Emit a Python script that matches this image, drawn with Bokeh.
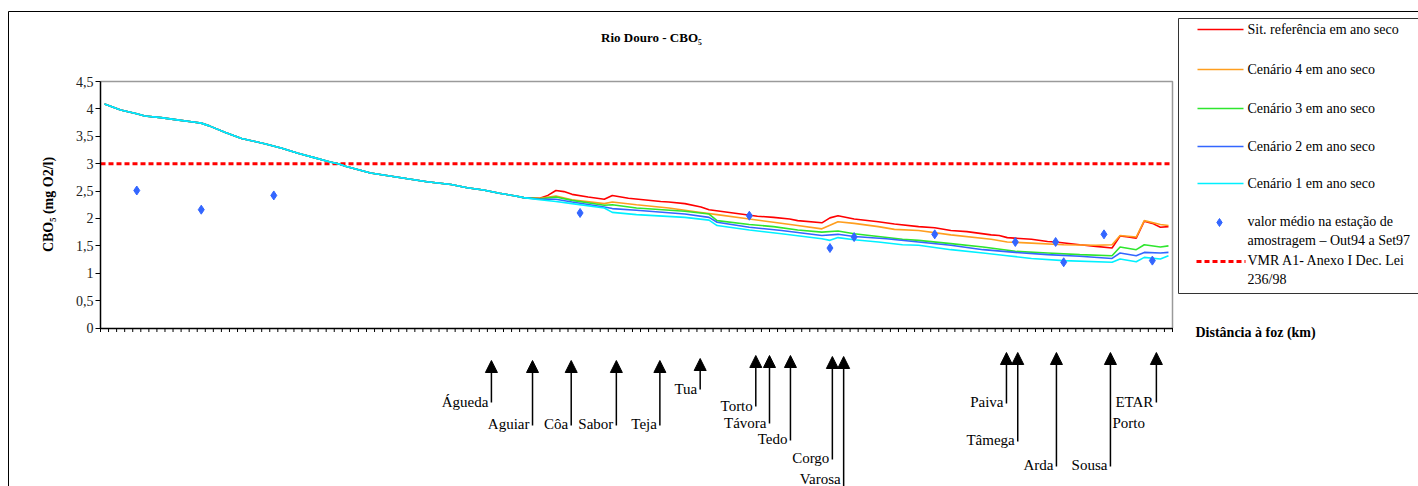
import numpy as np
from bokeh.plotting import figure
from bokeh.models import (Range1d, LinearAxis, FixedTicker, ColumnDataSource,
                          Arrow, NormalHead)
from bokeh.core.properties import value
from bokeh.embed import file_html
from bokeh.resources import INLINE

# ---------------- data ----------------
N_CAT = 133  # number of river sections on the category axis

# common upstream part (all scenarios coincide)
upstream_idx = [0, 2, 4, 5, 7, 9, 11, 12, 13, 15, 17, 20, 22, 24, 26, 28, 29, 30,
                33, 36, 40, 43, 45, 47, 49, 51, 52]
upstream_val = [4.09, 3.98, 3.91, 3.87, 3.84, 3.80, 3.76, 3.74, 3.69, 3.57, 3.46,
                3.36, 3.28, 3.19, 3.11, 3.03, 3.00, 2.95, 2.83, 2.76, 2.67, 2.62,
                2.56, 2.52, 2.46, 2.41, 2.38]

ref_idx = [54, 55, 56, 57, 58, 60, 62, 63, 65, 69, 70, 72, 74, 75, 78, 81, 83, 85,
           86, 89, 90, 91, 93, 96, 98, 101, 103, 105, 107, 110, 111, 112, 115, 117,
           118, 121, 123, 125, 126, 127, 128, 129, 130, 131, 132]
ref_val = [2.37, 2.42, 2.51, 2.49, 2.44, 2.39, 2.35, 2.42, 2.37, 2.31, 2.30, 2.27,
           2.21, 2.16, 2.10, 2.04, 2.02, 1.99, 1.96, 1.92, 2.01, 2.05, 1.99, 1.94,
           1.90, 1.85, 1.83, 1.78, 1.76, 1.70, 1.69, 1.65, 1.62, 1.58, 1.57, 1.52,
           1.49, 1.46, 1.68, 1.66, 1.64, 1.95, 1.91, 1.84, 1.85]

c4_idx = [54, 56, 58, 62, 63, 66, 70, 74, 76, 80, 83, 86, 89, 91, 93, 96, 98, 101,
          105, 110, 112, 115, 119, 123, 125, 126, 128, 129, 131, 132]
c4_val = [2.37, 2.41, 2.34, 2.27, 2.30, 2.25, 2.19, 2.11, 2.07, 1.99, 1.93, 1.87,
          1.81, 1.94, 1.91, 1.85, 1.80, 1.78, 1.70, 1.62, 1.57, 1.55, 1.52, 1.51,
          1.52, 1.69, 1.66, 1.96, 1.89, 1.87]

c3_idx = [54, 56, 58, 62, 63, 66, 72, 75, 76, 80, 83, 86, 89, 91, 93, 96, 99, 101,
          105, 109, 113, 117, 121, 125, 126, 128, 129, 131, 132]
c3_val = [2.36, 2.39, 2.33, 2.24, 2.25, 2.19, 2.13, 2.08, 1.96, 1.89, 1.85, 1.79,
          1.75, 1.77, 1.72, 1.67, 1.62, 1.60, 1.54, 1.48, 1.40, 1.37, 1.34, 1.32,
          1.48, 1.43, 1.52, 1.48, 1.50]

c2_idx = [54, 56, 58, 62, 63, 66, 72, 75, 76, 80, 84, 89, 91, 93, 97, 101, 105, 109,
          113, 117, 121, 125, 126, 128, 129, 131, 132]
c2_val = [2.35, 2.35, 2.30, 2.21, 2.18, 2.15, 2.08, 2.02, 1.93, 1.84, 1.78, 1.69,
          1.71, 1.67, 1.63, 1.57, 1.51, 1.43, 1.38, 1.34, 1.31, 1.27, 1.37, 1.32,
          1.38, 1.37, 1.38]

c1_idx = [54, 56, 58, 62, 63, 66, 72, 75, 76, 80, 84, 89, 90, 91, 93, 96, 99, 101,
          105, 109, 112, 115, 119, 125, 126, 128, 129, 131, 132]
c1_val = [2.34, 2.31, 2.27, 2.19, 2.11, 2.07, 2.02, 1.97, 1.87, 1.79, 1.72, 1.63,
          1.60, 1.65, 1.61, 1.57, 1.52, 1.51, 1.43, 1.37, 1.32, 1.27, 1.23, 1.20,
          1.26, 1.21, 1.29, 1.26, 1.32]

station_idx = [4, 12, 21, 59, 80, 90, 93, 103, 113, 118, 119, 124, 130]
station_val = [2.51, 2.16, 2.42, 2.10, 2.05, 1.46, 1.66, 1.71, 1.57, 1.57, 1.20,
               1.71, 1.23]

vmr_value = 3.0

y_ticks = [0, 0.5, 1, 1.5, 2, 2.5, 3, 3.5, 4, 4.5]
y_tick_labels = ["0", "0,5", "1", "1,5", "2", "2,5", "3", "3,5", "4", "4,5"]

series_names = ["Sit. referência em ano seco", "Cenário 4 em ano seco",
                "Cenário 3 em ano seco", "Cenário 2 em ano seco",
                "Cenário 1 em ano seco"]
series_colors = ["#FF0000", "#FF9E1F", "#2EE62E", "#3366FF", "#00F0FF"]
station_name = "valor médio na estação de\namostragem – Out94 a Set97"
vmr_name = "VMR A1- Anexo I Dec. Lei\n236/98"

tributaries = ["Águeda", "Aguiar", "Côa", "Sabor", "Teja", "Tua", "Torto", "Távora",
               "Tedo", "Corgo", "Varosa", "Paiva", "Tâmega", "Arda", "Sousa",
               "ETAR\nPorto"]
tributary_idx = [48.0, 53.1, 57.9, 63.5, 68.9, 73.9, 80.8, 82.5, 85.1, 90.3, 91.7,
                 111.9, 113.3, 118.1, 124.8, 130.5]

title_text = "Rio Douro - CBO₅"
y_label_text = "CBO₅ (mg O2/l)"
x_label_text = "Distância à foz (km)"

# ---------------- layout (pixels) ----------------
W, H = 1418, 486
PLOT_L, PLOT_R, PLOT_T, PLOT_B = 100.0, 1172.0, 81.0, 327.5
cw = (PLOT_R - PLOT_L) / N_CAT
yu = (PLOT_B - PLOT_T) / 4.5


def X(px):
    return (px - PLOT_L) / cw - 0.5


def Y(py):
    return (PLOT_B - py) / yu


arrow_tip_py = [360, 360, 360, 360, 360, 358, 355, 355, 355, 356, 356,
                352, 352, 352, 352, 352]
arrow_bot_py = [402, 425, 425, 425, 425, 389, 406, 423, 440, 459, 490,
                403, 441, 466, 466, 402]
label_base_py = [401, 423, 423, 423, 423, 388, 405, 422, 438, 457, 478,
                 401, 439, 464, 464, 401]

SERIF = value("Liberation Serif")

p = figure(width=W, height=H, x_range=Range1d(X(0), X(W)), y_range=Range1d(Y(H), Y(0)),
           output_backend="svg", toolbar_location=None,
           x_axis_location=None, y_axis_location=None, min_border=0,
           background_fill_color="white", border_fill_color="white",
           outline_line_color=None)
p.min_border_left = p.min_border_right = p.min_border_top = p.min_border_bottom = 0
p.grid.visible = False

# outer chart border (top + left visible)
p.segment(x0=[X(8), X(8)], y0=[Y(11), Y(11)], x1=[X(W + 5), X(8)], y1=[Y(11), Y(H + 5)],
          line_color="black", line_width=1)

# plot-area border (gray, top + right)
p.line(x=[-0.5, N_CAT - 0.5, N_CAT - 0.5], y=[y_ticks[-1], y_ticks[-1], 0],
       line_color="#9A9A9A", line_width=1.5)

# VMR dashed limit
p.line(x=[-0.5, N_CAT - 0.5], y=[vmr_value, vmr_value], line_color="#FF0000",
       line_width=3, line_dash="5 3")

# scenario lines
all_series = [(ref_idx, ref_val), (c4_idx, c4_val), (c3_idx, c3_val),
              (c2_idx, c2_val), (c1_idx, c1_val)]
for (ix, vals), col in zip(all_series, series_colors):
    p.line(x=upstream_idx + ix, y=upstream_val + vals, line_color=col, line_width=1.6)

# stations
p.scatter(x=station_idx, y=station_val, marker="diamond", size=9,
          fill_color="#3366FF", line_color="#3366FF")

# axes
xaxis = LinearAxis(fixed_location=0, bounds=(-0.5, N_CAT - 0.5),
                   ticker=FixedTicker(ticks=[]),
                   major_tick_out=0, major_tick_in=0, minor_tick_out=0, minor_tick_in=0,
                   axis_line_width=1.5, axis_line_color="black")
p.add_layout(xaxis, "below")
# category boundary tick marks on the x axis
boundaries = [k - 0.5 for k in range(N_CAT + 1)]
p.segment(x0=boundaries, y0=[0] * len(boundaries), x1=boundaries,
          y1=[Y(PLOT_B + 4)] * len(boundaries), line_color="black", line_width=1)

yaxis = LinearAxis(fixed_location=-0.5, bounds=(0, y_ticks[-1]),
                   ticker=FixedTicker(ticks=y_ticks),
                   major_label_overrides={float(t): lab for t, lab in zip(y_ticks, y_tick_labels)},
                   major_tick_out=5, major_tick_in=0, minor_tick_out=0, minor_tick_in=0,
                   major_label_standoff=2, major_label_text_font="'Liberation Serif', serif",
                   major_label_text_font_size="14px", major_label_text_color="#222222",
                   axis_line_width=1.5, axis_line_color="black",
                   major_tick_line_color="black")
p.add_layout(yaxis, "left")

# titles
p.text(x=[X(651)], y=[Y(37)], text=[title_text], text_font=SERIF, text_font_size="13px",
       text_font_style="bold", text_align="center", text_baseline="middle", text_color="black")
p.text(x=[X(48)], y=[Y(204)], text=[y_label_text], text_font=SERIF, text_font_size="14px",
       text_font_style="bold", text_align="center", text_baseline="middle",
       angle=np.pi / 2, text_color="black")
p.text(x=[X(1195)], y=[Y(332)], text=[x_label_text], text_font=SERIF, text_font_size="14px",
       text_font_style="bold", text_align="left", text_baseline="middle", text_color="black")

# tributary arrows
arr_src = ColumnDataSource(dict(
    x=tributary_idx,
    y0=[Y(b) for b in arrow_bot_py],
    y1=[Y(t) for t in arrow_tip_py]))
p.add_layout(Arrow(end=NormalHead(size=12, fill_color="black", line_color="black",
                                  line_width=1),
                   x_start="x", y_start="y0", x_end="x", y_end="y1", source=arr_src,
                   line_color="black", line_width=1.5))

simple = [i for i, t in enumerate(tributaries) if "\n" not in t]
p.text(x=[tributary_idx[i] - 3 / cw for i in simple],
       y=[Y(label_base_py[i]) for i in simple],
       text=[tributaries[i] for i in simple], text_font=SERIF, text_font_size="15px",
       text_align="right", text_baseline="alphabetic", text_color="black")
multi = [i for i, t in enumerate(tributaries) if "\n" in t]
for i in multi:
    first, second = tributaries[i].split("\n")
    p.text(x=[tributary_idx[i] - 3 / cw], y=[Y(label_base_py[i])], text=[first],
           text_font=SERIF, text_font_size="15px", text_align="right",
           text_baseline="alphabetic", text_color="black")
    p.text(x=[tributary_idx[i] - 3 / cw - 43 / cw + 2 / cw], y=[Y(label_base_py[i] + 21)],
           text=[second], text_font=SERIF, text_font_size="15px", text_align="left",
           text_baseline="alphabetic", text_color="black")

# legend (drawn manually)
LG_L, LG_T, LG_B = 1178, 18, 293
p.quad(left=[X(LG_L)], right=[X(W + 20)], top=[Y(LG_T)], bottom=[Y(LG_B)],
       fill_color="white", line_color="#333333", line_width=1)
row_py = [29, 69, 108, 146, 183]
for py, col in zip(row_py, series_colors):
    p.line(x=[X(1197), X(1243)], y=[Y(py), Y(py)], line_color=col, line_width=1.6)
p.scatter(x=[X(1219)], y=[Y(222)], marker="diamond", size=8, fill_color="#3366FF",
          line_color="#3366FF")
p.line(x=[X(1196), X(1245)], y=[Y(261), Y(261)], line_color="#FF0000", line_width=3,
       line_dash="5 3")
leg_txt, leg_py = [], []
for name, py in zip(series_names, row_py):
    leg_txt.append(name)
    leg_py.append(py)
for name, py in [(station_name, 221), (vmr_name, 260)]:
    for k, part in enumerate(name.split("\n")):
        leg_txt.append(part)
        leg_py.append(py + 19 * k)
p.text(x=[X(1247)] * len(leg_txt), y=[Y(v) for v in leg_py], text=leg_txt,
       text_font=SERIF, text_font_size="14px", text_align="left",
       text_baseline="middle", text_color="black")

open("out.html", "w").write(file_html(p, INLINE))
